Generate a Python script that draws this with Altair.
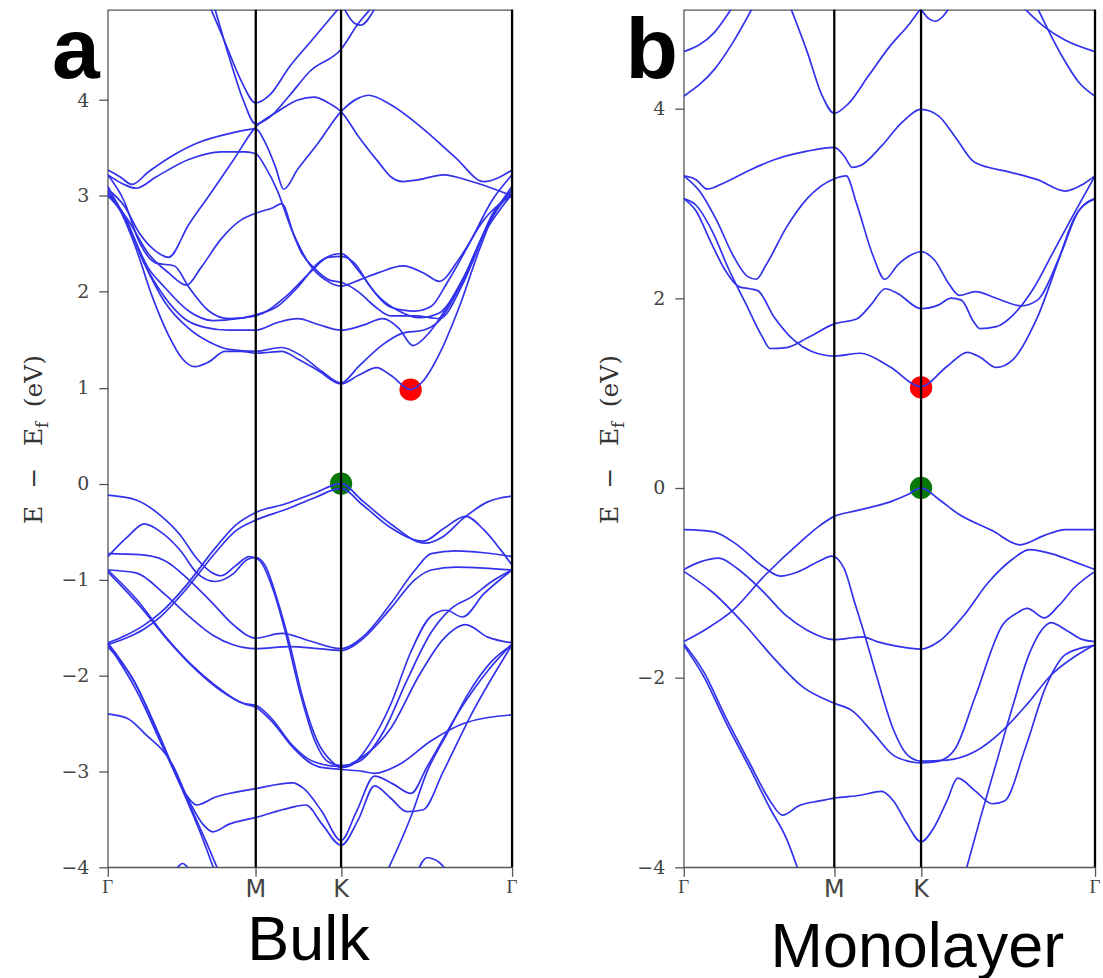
import altair as alt
import pandas as pd

# k-path: Gamma - M - K - Gamma, as a fraction of the full path length
KPATH_TICKS = [0.0, 0.366, 0.577, 1.0]
KPATH_LABELS = ["Γ", "M", "K", "Γ"]
VLINE_K = [0.366, 0.577, 1.0]

BULK_YTICKS = [-4, -3, -2, -1, 0, 1, 2, 3, 4]
MONO_YTICKS = [-4, -2, 0, 2, 4]

# ---------------- bulk: conduction bands (k, E in eV) ----------------
BULK_C1 = [(0, 3.0), (0.03, 2.85), (0.07, 2.45), (0.11, 1.95), (0.15, 1.55), (0.185, 1.3), (0.215, 1.22), (0.25, 1.27), (0.29, 1.38), (0.33, 1.38), (0.366, 1.36), (0.4, 1.37), (0.43, 1.38), (0.47, 1.3), (0.52, 1.18), (0.577, 1.04), (0.62, 1.13), (0.665, 1.21), (0.7, 1.13), (0.749, 0.98), (0.78, 1.07), (0.82, 1.35), (0.87, 1.85), (0.92, 2.45), (0.96, 2.85), (1, 3.0)]
BULK_C2 = [(0, 3.02), (0.04, 2.8), (0.09, 2.3), (0.14, 1.9), (0.2, 1.62), (0.25, 1.48), (0.3, 1.4), (0.366, 1.38), (0.43, 1.42), (0.48, 1.33), (0.53, 1.17), (0.577, 1.05), (0.62, 1.22), (0.68, 1.45), (0.73, 1.57), (0.78, 1.6), (0.82, 1.7), (0.87, 2.05), (0.93, 2.6), (1, 3.02)]
BULK_C3 = [(0, 3.05), (0.04, 2.8), (0.09, 2.3), (0.14, 1.95), (0.19, 1.72), (0.24, 1.63), (0.3, 1.6), (0.366, 1.6), (0.42, 1.68), (0.47, 1.72), (0.52, 1.66), (0.577, 1.6), (0.63, 1.65), (0.68, 1.72), (0.72, 1.62), (0.755, 1.44), (0.79, 1.55), (0.84, 1.85), (0.9, 2.3), (0.95, 2.8), (1, 3.05)]
BULK_C4 = [(0, 3.1), (0.05, 2.7), (0.1, 2.25), (0.14, 2.05), (0.2, 1.8), (0.26, 1.7), (0.32, 1.72), (0.366, 1.76), (0.42, 1.85), (0.47, 2.05), (0.52, 2.3), (0.577, 2.4), (0.62, 2.22), (0.67, 1.95), (0.72, 1.8), (0.77, 1.73), (0.82, 1.78), (0.88, 2.15), (0.94, 2.7), (1, 3.07)]
BULK_C5 = [(0, 3.22), (0.04, 2.95), (0.08, 2.5), (0.12, 2.3), (0.165, 2.27), (0.2, 2.05), (0.25, 1.8), (0.3, 1.72), (0.366, 1.75), (0.44, 1.95), (0.5, 2.2), (0.545, 2.36), (0.577, 2.37), (0.61, 2.3), (0.65, 2.05), (0.7, 1.84), (0.76, 1.8), (0.8, 1.85), (0.84, 2.1), (0.9, 2.55), (0.95, 2.95), (1, 3.22)]
BULK_C6 = [(0, 3.02), (0.05, 2.75), (0.1, 2.4), (0.15, 2.2), (0.195, 2.07), (0.23, 2.25), (0.28, 2.55), (0.33, 2.75), (0.366, 2.82), (0.41, 2.88), (0.43, 2.92), (0.46, 2.6), (0.5, 2.28), (0.54, 2.12), (0.577, 2.06), (0.62, 2.12), (0.67, 2.2), (0.73, 2.27), (0.78, 2.2), (0.82, 2.11), (0.87, 2.35), (0.93, 2.75), (1, 3.02)]
BULK_C7 = [(0, 3.27), (0.03, 3.2), (0.06, 3.12), (0.1, 3.25), (0.16, 3.42), (0.22, 3.55), (0.3, 3.65), (0.366, 3.7), (0.39, 3.55), (0.415, 3.3), (0.435, 3.07), (0.47, 3.28), (0.52, 3.55), (0.577, 3.88), (0.62, 4.02), (0.645, 4.05), (0.7, 3.95), (0.78, 3.7), (0.86, 3.4), (0.93, 3.15), (1, 3.27)]
BULK_C8 = [(0, 3.22), (0.04, 3.12), (0.07, 3.08), (0.12, 3.2), (0.2, 3.38), (0.28, 3.46), (0.34, 3.46), (0.366, 3.44), (0.39, 3.3), (0.42, 3.05), (0.45, 2.7), (0.48, 2.4), (0.51, 2.25), (0.55, 2.12), (0.577, 2.1), (0.62, 2.0), (0.66, 1.85), (0.7, 1.75), (0.76, 1.75), (0.82, 1.72), (0.88, 2.1), (0.94, 2.7), (1, 3.1)]
BULK_C9 = [(0, 3.07), (0.04, 2.9), (0.08, 2.6), (0.12, 2.42), (0.15, 2.36), (0.2, 2.7), (0.255, 3.03), (0.31, 3.37), (0.366, 3.72), (0.42, 3.88), (0.47, 4.0), (0.51, 4.03), (0.55, 3.96), (0.577, 3.88), (0.62, 3.62), (0.67, 3.35), (0.7, 3.2), (0.73, 3.15), (0.77, 3.17), (0.83, 3.22), (0.9, 3.15), (0.95, 3.08), (1, 3.0)]
BULK_C10 = [(0.255, 4.95), (0.29, 4.6), (0.33, 4.2), (0.366, 3.97), (0.4, 4.05), (0.45, 4.35), (0.5, 4.6), (0.55, 4.85), (0.57, 4.95)]
BULK_C11 = [(0.265, 4.95), (0.3, 4.45), (0.335, 4.0), (0.366, 3.75), (0.4, 3.82), (0.45, 4.05), (0.5, 4.3), (0.577, 4.53), (0.62, 4.8), (0.65, 4.95)]
BULK_C12 = [(0.585, 4.95), (0.61, 4.8), (0.625, 4.78), (0.66, 4.95)]

# ---------------- bulk: valence bands ----------------
BULK_V1 = [(0, -1.66), (0.045, -1.58), (0.088, -1.48), (0.132, -1.34), (0.194, -1.06), (0.264, -0.68), (0.317, -0.43), (0.366, -0.3), (0.44, -0.21), (0.51, -0.1), (0.577, 0.0), (0.63, -0.18), (0.7, -0.42), (0.785, -0.62), (0.83, -0.55), (0.88, -0.36), (0.94, -0.19), (1, -0.13)]
BULK_V2 = [(0, -1.68), (0.045, -1.61), (0.088, -1.52), (0.132, -1.38), (0.194, -1.1), (0.264, -0.73), (0.317, -0.49), (0.366, -0.38), (0.44, -0.27), (0.51, -0.15), (0.577, -0.05), (0.63, -0.22), (0.7, -0.46), (0.78, -0.6), (0.83, -0.47), (0.885, -0.34), (0.93, -0.48), (0.97, -0.68), (1, -0.85)]
BULK_V3 = [(0, -0.12), (0.07, -0.17), (0.13, -0.33), (0.18, -0.54), (0.22, -0.78), (0.255, -0.92), (0.28, -0.96), (0.315, -0.86), (0.35, -0.76), (0.375, -0.8), (0.41, -1.12), (0.44, -1.56), (0.475, -2.17), (0.51, -2.66), (0.545, -2.9), (0.577, -2.94), (0.62, -2.9), (0.68, -2.6), (0.74, -2.05), (0.8, -1.55), (0.85, -1.3), (0.9, -1.18), (0.95, -1.02), (1, -0.9)]
BULK_V4 = [(0, -0.76), (0.05, -0.55), (0.09, -0.42), (0.13, -0.5), (0.18, -0.7), (0.22, -0.93), (0.265, -1.02), (0.31, -0.94), (0.345, -0.79), (0.366, -0.77), (0.39, -0.86), (0.42, -1.22), (0.45, -1.67), (0.48, -2.2), (0.52, -2.7), (0.555, -2.9), (0.577, -2.96), (0.6, -2.94), (0.65, -2.7), (0.7, -2.3), (0.75, -1.75), (0.8, -1.38), (0.837, -1.32), (0.877, -1.39), (0.93, -1.15), (1, -0.9)]
BULK_V5 = [(0, -0.73), (0.08, -0.74), (0.14, -0.8), (0.2, -1.0), (0.26, -1.25), (0.31, -1.47), (0.366, -1.61), (0.43, -1.56), (0.5, -1.64), (0.577, -1.72), (0.63, -1.6), (0.7, -1.25), (0.76, -0.9), (0.8, -0.73), (0.86, -0.7), (0.93, -0.72), (1, -0.76)]
BULK_V6 = [(0, -0.9), (0.07, -0.93), (0.14, -1.15), (0.2, -1.38), (0.26, -1.58), (0.31, -1.68), (0.366, -1.72), (0.45, -1.7), (0.52, -1.72), (0.577, -1.74), (0.63, -1.62), (0.7, -1.3), (0.76, -1.0), (0.8, -0.9), (0.86, -0.87), (0.93, -0.88), (1, -0.9)]
BULK_V7 = [(0, -0.9), (0.07, -1.2), (0.14, -1.58), (0.21, -1.9), (0.265, -2.1), (0.335, -2.29), (0.366, -2.31), (0.405, -2.45), (0.457, -2.73), (0.51, -2.9), (0.577, -2.95), (0.63, -2.85), (0.7, -2.55), (0.77, -2.0), (0.83, -1.62), (0.885, -1.47), (0.94, -1.6), (1, -1.66)]
BULK_V8 = [(0, -0.92), (0.08, -1.28), (0.15, -1.64), (0.22, -1.95), (0.28, -2.16), (0.34, -2.3), (0.366, -2.33), (0.41, -2.5), (0.46, -2.76), (0.52, -2.95), (0.577, -2.98), (0.63, -3.0), (0.66, -3.02), (0.72, -2.93), (0.8, -2.68), (0.88, -2.5), (1, -2.41)]
BULK_V9 = [(0, -1.66), (0.07, -2.1), (0.13, -2.66), (0.195, -3.25), (0.22, -3.35), (0.265, -3.27), (0.366, -3.18), (0.457, -3.12), (0.485, -3.18), (0.53, -3.42), (0.577, -3.72), (0.615, -3.42), (0.66, -3.05), (0.705, -3.13), (0.75, -3.23), (0.79, -2.95), (0.88, -2.3), (0.94, -1.95), (1, -1.67)]
BULK_V10 = [(0, -1.67), (0.07, -2.15), (0.14, -2.78), (0.2, -3.3), (0.235, -3.55), (0.26, -3.63), (0.3, -3.55), (0.366, -3.48), (0.45, -3.38), (0.49, -3.35), (0.53, -3.55), (0.577, -3.77), (0.62, -3.5), (0.66, -3.15), (0.7, -3.28), (0.74, -3.42), (0.78, -3.4), (0.83, -3.0), (0.9, -2.4), (1, -1.68)]
BULK_V11 = [(0, -2.4), (0.05, -2.45), (0.09, -2.6), (0.16, -2.93), (0.21, -3.42), (0.25, -3.8), (0.275, -4.05)]
BULK_V12 = [(0, -1.7), (0.06, -2.02), (0.12, -2.55), (0.18, -3.15), (0.23, -3.65), (0.265, -4.05)]
BULK_V13 = [(0.16, -4.1), (0.185, -3.96), (0.21, -4.1)]
BULK_V14 = [(0.76, -4.1), (0.79, -3.9), (0.82, -3.95), (0.85, -4.1)]
BULK_V15 = [(0.69, -4.05), (0.75, -3.47), (0.79, -3.0), (0.84, -2.6), (0.89, -2.2), (0.95, -1.85), (1, -1.68)]

# ---------------- monolayer: conduction bands ----------------
MONO_C1 = [(0, 3.05), (0.03, 2.92), (0.065, 2.6), (0.1, 2.3), (0.135, 2.12), (0.16, 2.1), (0.18, 2.08), (0.22, 1.8), (0.27, 1.55), (0.31, 1.44), (0.366, 1.39), (0.43, 1.42), (0.5, 1.28), (0.577, 1.07), (0.64, 1.28), (0.69, 1.43), (0.72, 1.38), (0.76, 1.27), (0.8, 1.35), (0.86, 1.8), (0.92, 2.5), (0.96, 2.92), (1, 3.05)]
MONO_C2 = [(0, 3.29), (0.04, 3.12), (0.08, 2.82), (0.12, 2.45), (0.155, 2.23), (0.176, 2.2), (0.2, 2.35), (0.25, 2.75), (0.3, 3.05), (0.366, 3.26), (0.395, 3.29), (0.42, 3.0), (0.46, 2.45), (0.489, 2.2), (0.52, 2.35), (0.55, 2.45), (0.577, 2.49), (0.61, 2.4), (0.645, 2.15), (0.67, 2.03), (0.71, 2.07), (0.76, 2.0), (0.82, 1.92), (0.86, 1.98), (0.91, 2.4), (0.95, 2.85), (1, 3.05)]
MONO_C3 = [(0, 3.05), (0.03, 2.98), (0.07, 2.7), (0.11, 2.3), (0.15, 1.95), (0.19, 1.6), (0.21, 1.47), (0.25, 1.48), (0.3, 1.58), (0.366, 1.73), (0.42, 1.78), (0.455, 1.93), (0.49, 2.1), (0.52, 2.05), (0.577, 1.89), (0.62, 1.93), (0.65, 2.0), (0.675, 1.98), (0.705, 1.75), (0.72, 1.68), (0.76, 1.7), (0.8, 1.82), (0.85, 2.1), (0.9, 2.5), (0.95, 2.9), (1, 3.29)]
MONO_C4 = [(0, 3.29), (0.03, 3.25), (0.057, 3.15), (0.1, 3.22), (0.16, 3.35), (0.22, 3.46), (0.3, 3.55), (0.366, 3.59), (0.39, 3.5), (0.41, 3.38), (0.43, 3.4), (0.48, 3.6), (0.53, 3.85), (0.577, 3.99), (0.62, 3.92), (0.66, 3.7), (0.708, 3.43), (0.793, 3.33), (0.86, 3.25), (0.928, 3.13), (0.97, 3.2), (1, 3.29)]
MONO_C5 = [(0, 4.6), (0.074, 4.8), (0.117, 5.06)]
MONO_C6 = [(0, 4.13), (0.074, 4.41), (0.12, 4.7), (0.167, 5.06)]
MONO_C7 = [(0.26, 5.06), (0.3, 4.6), (0.335, 4.15), (0.366, 3.95), (0.4, 4.05), (0.45, 4.35), (0.5, 4.65), (0.55, 4.9), (0.577, 5.06)]
MONO_C8 = [(0.575, 5.06), (0.595, 4.95), (0.611, 4.92), (0.63, 4.97), (0.645, 5.06)]
MONO_C9 = [(0.827, 5.06), (0.88, 4.85), (0.928, 4.72), (1, 4.6)]
MONO_C10 = [(0.86, 5.06), (0.92, 4.55), (0.96, 4.28), (1, 4.13)]

# ---------------- monolayer: valence bands ----------------
MONO_V1 = [(0, -1.62), (0.05, -1.5), (0.117, -1.3), (0.2, -0.91), (0.286, -0.56), (0.33, -0.4), (0.366, -0.3), (0.42, -0.24), (0.5, -0.15), (0.545, -0.07), (0.577, 0.0), (0.62, -0.12), (0.666, -0.27), (0.75, -0.45), (0.818, -0.6), (0.877, -0.5), (0.928, -0.44), (1, -0.44)]
MONO_V2 = [(0, -0.44), (0.07, -0.46), (0.13, -0.6), (0.19, -0.82), (0.235, -0.93), (0.28, -0.88), (0.33, -0.77), (0.36, -0.72), (0.39, -0.85), (0.415, -1.2), (0.44, -1.55), (0.47, -2.0), (0.51, -2.55), (0.545, -2.82), (0.577, -2.88), (0.64, -2.87), (0.708, -2.78), (0.77, -2.58), (0.835, -2.28), (0.894, -1.97), (0.95, -1.78), (1, -1.65)]
MONO_V3 = [(0, -0.86), (0.04, -0.78), (0.085, -0.74), (0.13, -0.85), (0.19, -1.08), (0.25, -1.35), (0.3, -1.5), (0.366, -1.6), (0.41, -1.58), (0.435, -1.57), (0.47, -1.62), (0.52, -1.67), (0.577, -1.7), (0.62, -1.62), (0.68, -1.35), (0.74, -1.0), (0.8, -0.75), (0.84, -0.65), (0.9, -0.7), (0.95, -0.78), (1, -0.86)]
MONO_V4 = [(0, -0.88), (0.07, -1.1), (0.15, -1.45), (0.22, -1.8), (0.29, -2.1), (0.366, -2.27), (0.41, -2.35), (0.46, -2.58), (0.51, -2.82), (0.545, -2.88), (0.577, -2.9), (0.62, -2.88), (0.66, -2.75), (0.708, -2.21), (0.776, -1.44), (0.81, -1.32), (0.835, -1.27), (0.877, -1.37), (0.91, -1.25), (0.95, -1.05), (1, -0.88)]
MONO_V5 = [(0, -1.64), (0.05, -1.95), (0.1, -2.4), (0.16, -2.9), (0.21, -3.3), (0.24, -3.45), (0.28, -3.35), (0.33, -3.3), (0.366, -3.27), (0.43, -3.24), (0.48, -3.2), (0.51, -3.3), (0.54, -3.52), (0.577, -3.73), (0.607, -3.59), (0.64, -3.3), (0.666, -3.06), (0.71, -3.2), (0.75, -3.33), (0.78, -3.3), (0.83, -2.75), (0.88, -2.1), (0.93, -1.75), (1, -1.66)]
MONO_V6 = [(0, -1.66), (0.05, -2.0), (0.1, -2.45), (0.16, -2.95), (0.21, -3.38), (0.25, -3.7), (0.28, -4.05)]
MONO_V7 = [(0.685, -4.05), (0.72, -3.5), (0.76, -2.9), (0.8, -2.3), (0.84, -1.75), (0.87, -1.5), (0.893, -1.42), (0.93, -1.5), (0.97, -1.6), (1, -1.62)]

# band extrema markers: (k, E, colour)
BULK_DOTS = [(0.749, 0.98, "#ff0000"), (0.577, 0.0, "#087808")]
MONO_DOTS = [(0.577, 1.06, "#ff0000"), (0.577, 0.0, "#087808")]

BULK_BANDS = {
    "c1": BULK_C1, "c2": BULK_C2, "c3": BULK_C3, "c4": BULK_C4, "c5": BULK_C5, "c6": BULK_C6,
    "c7": BULK_C7, "c8": BULK_C8, "c9": BULK_C9, "c10": BULK_C10, "c11": BULK_C11, "c12": BULK_C12,
    "v1": BULK_V1, "v2": BULK_V2, "v3": BULK_V3, "v4": BULK_V4, "v5": BULK_V5, "v6": BULK_V6,
    "v7": BULK_V7, "v8": BULK_V8, "v9": BULK_V9, "v10": BULK_V10, "v11": BULK_V11, "v12": BULK_V12,
    "v13": BULK_V13, "v14": BULK_V14, "v15": BULK_V15,
}
MONO_BANDS = {
    "c1": MONO_C1, "c2": MONO_C2, "c3": MONO_C3, "c4": MONO_C4, "c5": MONO_C5,
    "c6": MONO_C6, "c7": MONO_C7, "c8": MONO_C8, "c9": MONO_C9, "c10": MONO_C10,
    "v1": MONO_V1, "v2": MONO_V2, "v3": MONO_V3, "v4": MONO_V4, "v5": MONO_V5,
    "v6": MONO_V6, "v7": MONO_V7,
}

BAND_COLOR = "#3232ec"
AXIS_GRAY = "#555555"
LABEL_GRAY = "#444444"
PLOT_H = 859


def band_table(bands):
    rows = []
    for name, pts in bands.items():
        for k, e in pts:
            rows.append({"band": name, "k": k, "E": e})
    return pd.DataFrame(rows)


def one_row():
    return pd.DataFrame({"d": [0]})


def panel(bands, dots, ytop, yticks, width, letter, caption, cap_x, cap_y, ext_left, ext_right):
    xs = alt.Scale(domain=[0, 1], nice=False, zero=False)
    ys = alt.Scale(domain=[-4, ytop], nice=False, zero=False)
    x_axis = alt.Axis(
        values=KPATH_TICKS, labels=False, title=None, grid=False, domain=False,
        tickSize=9, tickColor=AXIS_GRAY, tickWidth=1.3,
    )
    y_axis = alt.Axis(
        values=yticks, format="d", title=None, grid=False, domain=False,
        tickSize=9, tickColor=AXIS_GRAY, tickWidth=1.3,
        labelFont="DejaVu Serif", labelFontSize=19, labelColor=LABEL_GRAY, labelPadding=10,
    )
    xenc = alt.X("k:Q", scale=xs, axis=x_axis)
    yenc = alt.Y("E:Q", scale=ys, axis=y_axis)

    dot_df = pd.DataFrame(dots, columns=["k", "E", "c"])
    dot_layer = alt.Chart(dot_df).mark_circle(size=500, opacity=1).encode(
        x=xenc, y=yenc, color=alt.Color("c:N", scale=None),
    )
    band_layer = alt.Chart(band_table(bands)).mark_line(
        clip=True, interpolate="monotone", color=BAND_COLOR, strokeWidth=1.7
    ).encode(x=xenc, y=yenc, detail="band:N")
    vline_layer = alt.Chart(pd.DataFrame({"k": VLINE_K})).mark_rule(
        color="black", strokeWidth=2.3
    ).encode(x=xenc)

    # k-point names under the ticks: Gamma in a serif face, M and K in a sans face
    kdf = pd.DataFrame({"k": KPATH_TICKS, "name": KPATH_LABELS})
    gamma_labels = alt.Chart(kdf).transform_filter("datum.name == 'Γ'").mark_text(
        font="Liberation Serif", fontSize=19, color=LABEL_GRAY, baseline="alphabetic"
    ).encode(x=xenc, y=alt.value(PLOT_H + 26), text="name:N")
    mk_labels = alt.Chart(kdf).transform_filter("datum.name != 'Γ'").mark_text(
        font="DejaVu Sans", fontSize=24, color=LABEL_GRAY, baseline="alphabetic"
    ).encode(x=xenc, y=alt.value(PLOT_H + 30), text="name:N")

    def txt(text, x, y, size, font="DejaVu Serif", weight="normal", angle=0, align="left", color="#333333"):
        return alt.Chart(one_row()).mark_text(
            text=text, font=font, fontSize=size, fontWeight=weight, angle=angle,
            align=align, baseline="alphabetic", color=color,
        ).encode(x=alt.value(x), y=alt.value(y))

    # rotated axis label  E − E_f (eV)
    ylab = [
        txt("E", -66, 515, 25, angle=270),
        txt("−", -66, 469, 25, angle=270, align="center"),
        txt("E", -66, 437, 25, angle=270),
        txt("f", -60, 419, 17, angle=270),
        txt("(eV)", -66, 398, 25, angle=270),
    ]
    letter_mark = txt(letter, -32, 68, 86, font="Liberation Sans", weight="bold", align="center", color="black")
    caption_mark = txt(caption, cap_x, cap_y, 63, font="Liberation Sans", align="center", color="black")

    # invisible frame that fixes the outer extent of the page
    extent = alt.Chart(one_row()).mark_rule(opacity=0).encode(
        x=alt.value(ext_left), x2=alt.value(ext_right), y=alt.value(-8), y2=alt.value(970)
    )

    return alt.layer(
        dot_layer, band_layer, vline_layer, gamma_labels, mk_labels,
        *ylab, letter_mark, caption_mark, extent
    ).properties(width=width, height=PLOT_H)


bulk = panel(BULK_BANDS, BULK_DOTS, 4.94, BULK_YTICKS, 405, "a", "Bulk", 201, 952, -107, 0)
mono = panel(MONO_BANDS, MONO_DOTS, 5.04, MONO_YTICKS, 412, "b", "Monolayer", 234, 959, 0, 419)

chart = alt.hconcat(bulk, mono, spacing=172, bounds="flush").properties(
    padding=0, background="white"
).configure_view(stroke=AXIS_GRAY, strokeWidth=1.3)

chart.save("out.html", embed_options={"renderer": "svg", "actions": False})
